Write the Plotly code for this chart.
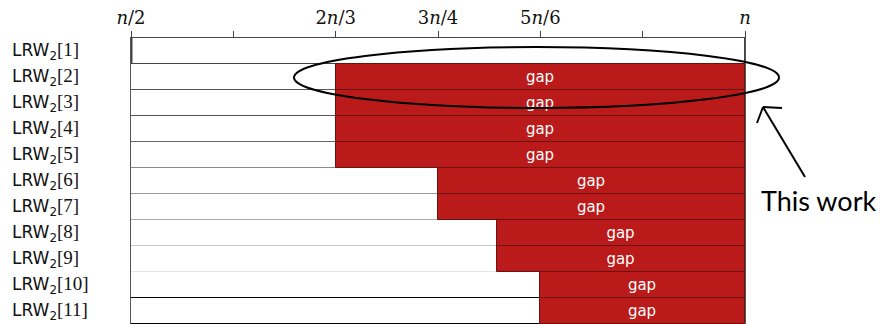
import plotly.graph_objects as go

# Rows of the LRW_2 table and where the open gap starts (fraction of n)
row_ids = list(range(1, 12))
row_names = [f"[{i}]" for i in row_ids]
gap_start = [1.0, 2/3, 2/3, 2/3, 2/3, 3/4, 3/4, 0.798, 0.798, 5/6, 5/6]
x_lo, x_hi = 0.5, 1.0

tick_vals = [6/12, 7/12, 8/12, 9/12, 10/12, 11/12, 12/12]
tick_text = ["<i>n</i>/2", "", "2<i>n</i>/3", "3<i>n</i>/4", "5<i>n</i>/6", "", "<i>n</i>"]

# border colours of the white part of each row (lighter towards the bottom)
white_edges = ["#444", "#444", "#555", "#555", "#666", "#888", "#999",
               "#aaa", "#c8c8c8", "#e8e8e8", "#000"]

RED = "#BA1A1A"
W, H = 880, 324
L, R, T, B = 131, 135, 38, 0
pw, ph = W - L - R, H - T - B


def px(xp):
    return (xp - L) / pw


def py(yp):
    return 1 - (yp - T) / ph


fig = go.Figure()

fig.add_trace(go.Bar(
    y=row_ids, x=[g - x_lo for g in gap_start], base=[x_lo] * len(row_ids),
    orientation="h", width=1.0,
    marker=dict(color="white", line=dict(color=white_edges, width=1)),
    hoverinfo="skip", showlegend=False,
))

# red "gap" segments, only for rows that have an open gap
gap_rows = [(r, g) for r, g in zip(row_ids, gap_start) if g < x_hi]
fig.add_trace(go.Bar(
    y=[r for r, _ in gap_rows], x=[x_hi - g for _, g in gap_rows],
    base=[g for _, g in gap_rows],
    orientation="h", width=1.0,
    marker=dict(color=RED, line=dict(color="#6a1212", width=1)),
    text=["gap"] * len(gap_rows),
    textposition="inside", insidetextanchor="middle",
    textfont=dict(family="DejaVu Sans", size=15, color="white"),
    hoverinfo="skip", showlegend=False,
))

# row labels on the left
for rid, nm in zip(row_ids, row_names):
    fig.add_annotation(
        x=px(10), xref="paper", y=rid, yref="y", xanchor="left", yanchor="middle",
        text=('LRW<sub>2</sub><span style="font-family:Liberation Serif;font-size:19px">'
              f'{nm}</span>'),
        showarrow=False, font=dict(family="DejaVu Sans", size=17, color="#111"),
    )

shapes = []
# thick left edge of the first row
shapes.append(dict(type="line", xref="x", yref="y", x0=x_lo, x1=x_lo,
                   y0=0.5, y1=1.5, line=dict(color="#444", width=3)))
# ellipse highlighting this work's rows
shapes.append(dict(type="circle", xref="paper", yref="paper",
                   x0=px(294), x1=px(779), y0=py(108), y1=py(47),
                   line=dict(color="black", width=2)))
# hand-drawn style arrow
tip = (763, 107)
for a, b in [((805, 177), tip), ((757, 123), tip), ((782, 108), tip)]:
    shapes.append(dict(type="line", xref="paper", yref="paper",
                       x0=px(a[0]), y0=py(a[1]), x1=px(b[0]), y1=py(b[1]),
                       line=dict(color="black", width=2)))

fig.add_annotation(x=px(818), y=py(200), xref="paper", yref="paper",
                   xanchor="center", yanchor="middle",
                   text="This work", showarrow=False,
                   font=dict(family="Lato", size=27, color="black"))

fig.update_layout(
    width=W, height=H, margin=dict(l=L, r=R, t=T, b=B),
    paper_bgcolor="white", plot_bgcolor="white",
    barmode="overlay", bargap=0,
    shapes=shapes,
    xaxis=dict(range=[x_lo, x_hi], side="top", tickvals=tick_vals, ticktext=tick_text,
               ticks="outside", ticklen=6, tickcolor="#444", tickwidth=1,
               showgrid=False, zeroline=False, showline=True, linecolor="#444", linewidth=1,
               tickfont=dict(family="DejaVu Serif", size=18, color="#111")),
    yaxis=dict(range=[11.5, 0.5], showticklabels=False, showgrid=False, zeroline=False,
               showline=True, linecolor="#555", linewidth=1, mirror=True, ticks=""),
)

fig.write_html("out.html")
